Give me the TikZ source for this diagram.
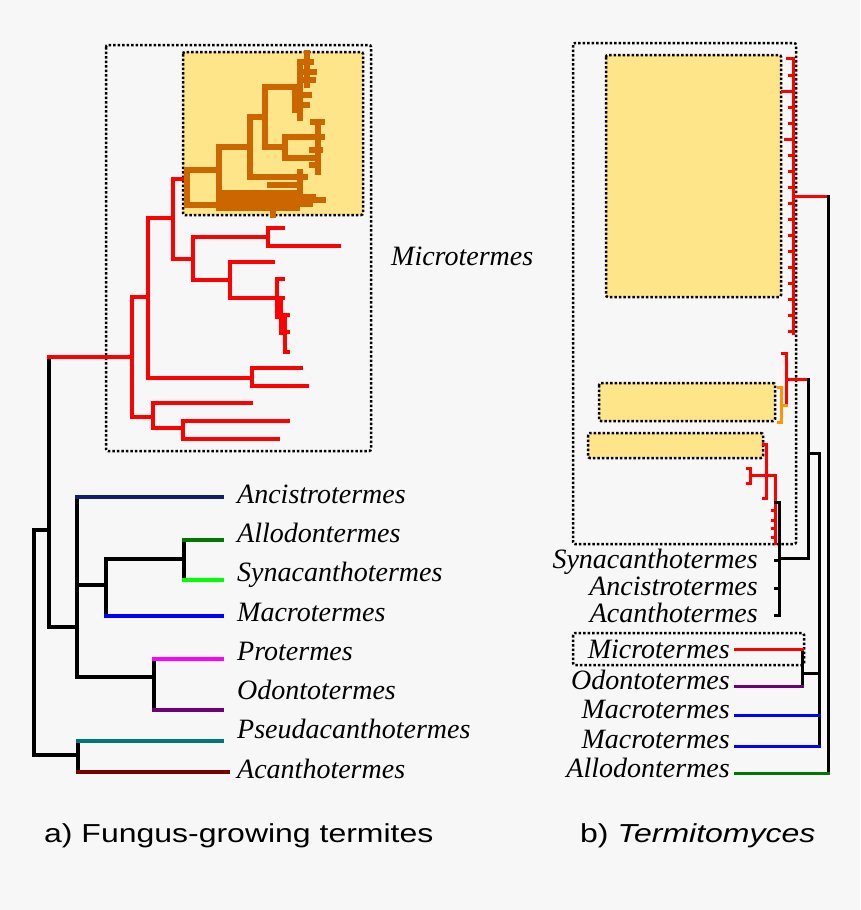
\documentclass[tikz,border=0pt]{standalone}
\usepackage{fontspec}
\setmainfont{Liberation Serif}
\newfontfamily\capfont[FakeStretch=1.23]{Liberation Sans}
\usetikzlibrary{positioning}

\definecolor{bggray}{RGB}{247,247,247}
\definecolor{boxyellow}{RGB}{255,229,138}
\definecolor{cladeorange}{RGB}{204,102,0}
\definecolor{treenavy}{RGB}{20,30,110}
\definecolor{treegreen}{RGB}{0,120,0}
\definecolor{treelime}{RGB}{0,255,0}
\definecolor{treeblue}{RGB}{0,0,255}
\definecolor{treepink}{RGB}{255,0,255}
\definecolor{treepurple}{RGB}{110,0,120}
\definecolor{treeteal}{RGB}{0,120,120}
\definecolor{treebrown}{RGB}{120,0,0}
\definecolor{treeorange}{RGB}{255,150,0}

\tikzset{
  lbranch/.style={line width=4.5pt, line cap=rect},
  obranch/.style={line width=5.5pt, line cap=rect, cladeorange},
  rbranch/.style={line width=3pt, line cap=rect},
  taxon/.style={font=\itshape\fontsize{28}{30}\selectfont, inner sep=0pt},
  dotbox/.style={draw, line width=2.5pt, dash pattern=on 2.5pt off 2pt, rounded corners=2pt},
  cladebox/.style={dotbox, fill=boxyellow},
  caption/.style={font=\capfont\fontsize{26}{30}\selectfont, inner sep=0pt, anchor=base west},
}

\begin{document}
\begin{tikzpicture}[x=1pt, y=-1pt]
    \fill[bggray] (0,0) rectangle (860,910);
    \useasboundingbox (0,0) rectangle (860,910);

    % a) termite tree: boxes round Microtermes
    \draw[dotbox] (106,45) rectangle (371,451);
    \draw[cladebox] (183,52) rectangle (363,215);
    \node[taxon, anchor=base west] (micA) at (391,265) {Microtermes};

    % leaf tips
    \coordinate (ancA) at (222,497);
    \coordinate (allA) at (222,540);
    \coordinate (synA) at (222,580);
    \coordinate (macA) at (222,616);
    \coordinate (proA) at (222,659);
    \coordinate (odoA) at (222,710);
    \coordinate (psdA) at (222,741);
    \coordinate (acaA) at (228,772);

    % backbone
    \draw[lbranch] (34,530) -- (34,755);
    \draw[lbranch] (34,530) -- (49,530);
    \draw[lbranch] (49,357) -- (49,627) -- (77,627);
    \draw[lbranch] (77,497) -- (77,677);
    \draw[lbranch] (77,585) -- (106,585);
    \draw[lbranch] (106,559) -- (106,616);
    \draw[lbranch] (106,559) -- (184,559);
    \draw[lbranch] (184,540) -- (184,580);
    \draw[lbranch] (77,677) -- (154,677);
    \draw[lbranch] (154,659) -- (154,710);
    \draw[lbranch] (34,755) -- (78,755);
    \draw[lbranch] (78,741) -- (78,772);

    % coloured leaves
    \draw[lbranch, treenavy] (77,497) -- (ancA);
    \draw[lbranch, treegreen] (184,540) -- (allA);
    \draw[lbranch, treelime] (184,580) -- (synA);
    \draw[lbranch, treeblue] (106,616) -- (macA);
    \draw[lbranch, treepink] (154,659) -- (proA);
    \draw[lbranch, treepurple] (154,710) -- (odoA);
    \draw[lbranch, treeteal] (78,741) -- (psdA);
    \draw[lbranch, treebrown] (78,772) -- (acaA);

    \node[taxon, anchor=base west] (ancAlab) at (237,503) {Ancistrotermes};
    \node[taxon, anchor=base west] (allAlab) at (237,542) {Allodontermes};
    \node[taxon, anchor=base west] (synAlab) at (237,581) {Synacanthotermes};
    \node[taxon, anchor=base west] (macAlab) at (237,621) {Macrotermes};
    \node[taxon, anchor=base west] (proAlab) at (237,660) {Protermes};
    \node[taxon, anchor=base west] (odoAlab) at (237,699) {Odontotermes};
    \node[taxon, anchor=base west] (psdAlab) at (237,738) {Pseudacanthotermes};
    \node[taxon, anchor=base west] (acaAlab) at (237,778) {Acanthotermes};

    % Microtermes clade
    \draw[lbranch, red] (49,357) -- (132,357);
    \draw[lbranch, red] (132,297) -- (132,417);
    \draw[lbranch, red] (132,297) -- (148,297);
    \draw[lbranch, red] (148,218) -- (148,378) -- (252,378);
    \draw[lbranch, red] (252,368) -- (252,386);
    \draw[lbranch, red] (252,368) -- (301,368);
    \draw[lbranch, red] (252,386) -- (307,386);
    \draw[lbranch, red] (148,218) -- (173,218);
    \draw[lbranch, red] (173,179) -- (173,259);
    \draw[lbranch, red] (173,179) -- (187,179);
    \draw[lbranch, red] (173,259) -- (193,259);
    \draw[lbranch, red] (193,237) -- (193,280) -- (230,280);
    \draw[lbranch, red] (193,237) -- (268,237);
    \draw[lbranch, red] (268,228) -- (268,246);
    \draw[lbranch, red] (268,228) -- (283,228);
    \draw[lbranch, red] (268,246) -- (339,246);
    \draw[lbranch, red] (230,262) -- (230,298);
    \draw[lbranch, red] (230,262) -- (273,262);
    \draw[lbranch, red] (230,298) -- (283,298);
    \draw[lbranch, red] (277,279) -- (277,317) (277,279) -- (283,279)
        (281,298) -- (281,333) (285,315) -- (285,352)
        (285,315) -- (288,315) (285,332) -- (288,332) (285,352) -- (288,352);
    \draw[lbranch, red] (132,417) -- (153,417);
    \draw[lbranch, red] (153,403) -- (153,428) -- (183,428);
    \draw[lbranch, red] (153,403) -- (251,403);
    \draw[lbranch, red] (183,421) -- (183,439);
    \draw[lbranch, red] (183,421) -- (288,421);
    \draw[lbranch, red] (183,439) -- (278,439);

    % collapsed part in orange
    \draw[obranch] (187,170) -- (187,205);
    \draw[obranch] (187,170) -- (219,170);
    \draw[obranch] (187,205) -- (219,205);
    \draw[obranch] (219,147) -- (219,208);
    \draw[obranch] (219,147) -- (250,147);
    \draw[obranch] (250,117) -- (250,177) -- (305,177);
    \draw[obranch] (250,117) -- (265,117);
    \draw[obranch] (265,87) -- (265,147) -- (285,147);
    \draw[obranch] (265,87) -- (295,87);
    \draw[obranch] (285,137) -- (285,158);
    \draw[obranch] (285,137) -- (322,137);
    \draw[obranch] (285,158) -- (317,158);
    \draw[obranch] (318,122) -- (318,172) (313,122) -- (322,122)
        (312,150) -- (320,150) (312,165) -- (318,165);
    \draw[obranch] (270,185) -- (300,185) (300,172) -- (300,190);
    \draw[obranch] (219,193) -- (300,193) (219,197) -- (313,197)
        (219,200) -- (323,200) (219,204) -- (310,204)
        (219,208) -- (297,208) (273,208) -- (273,215);
    \draw[obranch] (300,62) -- (300,118) (307,53) -- (307,85)
        (295,87) -- (295,110) (300,62) -- (311,62) (300,72) -- (314,72)
        (300,80) -- (313,80) (295,95) -- (309,95) (295,105) -- (307,105);

    % b) Termitomyces tree: boxes
    \draw[dotbox] (573,43) rectangle (796,544);
    \draw[cladebox] (606,55) rectangle (781,297);
    \draw[cladebox] (599,383) rectangle (775,421);
    \draw[cladebox] (588,433) rectangle (763,458);
    \draw[dotbox] (573,633) rectangle (804,665);

    % leaf tips
    \coordinate (synR) at (775,560);
    \coordinate (ancR) at (775,588);
    \coordinate (acaR) at (775,615);
    \coordinate (micR) at (735,649);
    \coordinate (odoR) at (735,686);
    \coordinate (macR1) at (735,715);
    \coordinate (macR2) at (735,746);
    \coordinate (allR) at (735,773);

    % red comb
    \draw[rbranch, red] (793,58) -- (793,333);
    \draw[rbranch, red] (787,58) -- (793,58);
    \draw[rbranch, red] (782,91) -- (793,91);
    \draw[rbranch, red] (785,139) -- (793,139);
    \foreach \y in {75,91,...,331}
        \draw[rbranch, red] (789,\y) -- (793,\y);
    \draw[rbranch, red] (793,196) -- (828,196);

    % red and orange groups in the middle
    \draw[rbranch, red] (786,353) -- (786,405);
    \draw[rbranch, red] (782,353) -- (786,353);
    \draw[rbranch, red] (786,379) -- (808,379);
    \draw[rbranch, treeorange] (781,387) -- (781,422);
    \draw[rbranch, treeorange] (778,387) -- (781,387);
    \draw[rbranch, treeorange] (778,422) -- (781,422);
    \draw[rbranch, treeorange] (781,405) -- (786,405);
    \draw[rbranch, red] (766,444) -- (766,498);
    \draw[rbranch, red] (763,444) -- (766,444);
    \draw[rbranch, red] (763,498) -- (766,498);
    \draw[rbranch, red] (750,475) -- (775,475) -- (775,543);
    \draw[rbranch, red] (750,468) -- (750,483);
    \draw[rbranch, red] (747,468) -- (750,468);
    \draw[rbranch, red] (747,483) -- (750,483);
    \foreach \y in {510,520,528,537}
        \draw[rbranch, red] (772,\y) -- (775,\y);

    % black backbone
    \draw[rbranch] (828,196) -- (828,773);
    \draw[rbranch] (808,379) -- (808,558);
    \draw[rbranch] (808,453) -- (819,453);
    \draw[rbranch] (819,453) -- (819,746);
    \draw[rbranch] (779,558) -- (808,558);
    \draw[rbranch] (779,502) -- (779,615);
    \draw[rbranch] (775,502) -- (779,502);
    \draw[rbranch] (779,560) -- (synR);
    \draw[rbranch] (779,588) -- (ancR);
    \draw[rbranch] (779,615) -- (acaR);
    \draw[rbranch] (802,649) -- (802,686);
    \draw[rbranch] (802,673) -- (819,673);

    % coloured leaves
    \draw[rbranch, red] (802,649) -- (micR);
    \draw[rbranch, treepurple] (802,686) -- (odoR);
    \draw[rbranch, treeblue] (819,715) -- (macR1);
    \draw[rbranch, treeblue] (819,746) -- (macR2);
    \draw[rbranch, treegreen] (828,773) -- (allR);

    \node[taxon, anchor=base east] (synRlab) at (758,568) {Synacanthotermes};
    \node[taxon, anchor=base east] (ancRlab) at (758,595) {Ancistrotermes};
    \node[taxon, anchor=base east] (acaRlab) at (758,622) {Acanthotermes};
    \node[taxon, anchor=base east] (micRlab) at (730,658) {Microtermes};
    \node[taxon, anchor=base east] (odoRlab) at (730,689) {Odontotermes};
    \node[taxon, anchor=base east] (macR1lab) at (730,718) {Macrotermes};
    \node[taxon, anchor=base east] (macR2lab) at (730,748) {Macrotermes};
    \node[taxon, anchor=base east] (allRlab) at (730,777) {Allodontermes};

    % captions
    \node[caption] (capA) at (44,842) {a) Fungus-growing termites};
    \node[caption] (capB) at (580,842) {b) \textit{Termitomyces}};
\end{tikzpicture}
\end{document}
